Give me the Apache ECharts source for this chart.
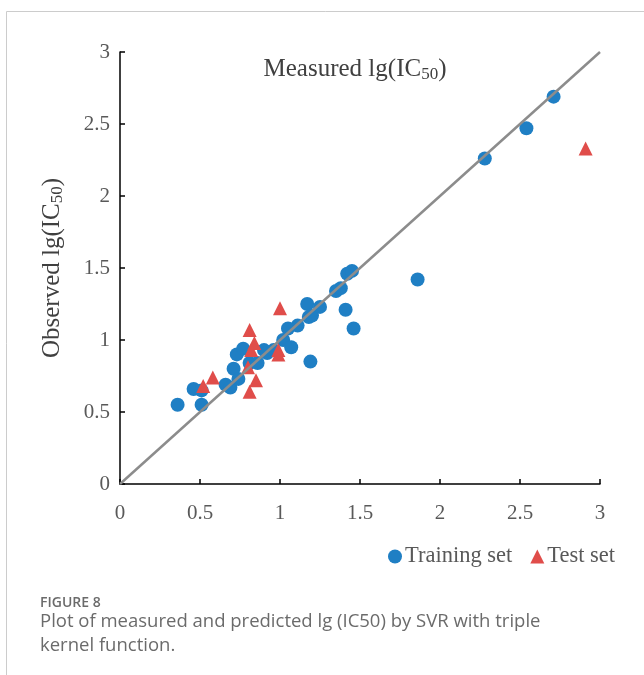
<!DOCTYPE html>
<html>
<head>
<meta charset="utf-8">
<script src="https://cdn.jsdelivr.net/npm/echarts@6/dist/echarts.min.js"></script>
<style>
  html, body { margin: 0; padding: 0; background: #fff; }
  #chart { width: 644px; height: 675px; }
</style>
</head>
<body>
<div id="chart"></div>
<script>
// Measured vs. observed lg(IC50) values: [measured, observed]
const trainingSet = [
  [0.36, 0.55], [0.46, 0.66], [0.51, 0.65], [0.51, 0.55], [0.66, 0.69],
  [0.69, 0.67], [0.71, 0.80], [0.73, 0.90], [0.74, 0.73], [0.77, 0.94],
  [0.81, 0.84], [0.86, 0.84], [0.90, 0.93], [0.92, 0.91], [0.96, 0.93],
  [1.02, 1.00], [1.05, 1.08], [1.07, 0.95], [1.11, 1.10], [1.17, 1.25],
  [1.18, 1.16], [1.20, 1.17], [1.19, 0.85], [1.25, 1.23], [1.35, 1.34],
  [1.38, 1.36], [1.41, 1.21], [1.42, 1.46], [1.45, 1.48], [1.46, 1.08],
  [1.86, 1.42], [2.28, 2.26], [2.54, 2.47], [2.71, 2.69]
];
const testSet = [
  [0.52, 0.68], [0.58, 0.74], [0.80, 0.81], [0.81, 0.64], [0.81, 1.07],
  [0.82, 0.93], [0.84, 0.98], [0.85, 0.72], [0.99, 0.93], [0.99, 0.90],
  [1.00, 1.22], [2.91, 2.33]
];
const identityLine = [[0, 0], [3, 3]];
const tickValues = [0, 0.5, 1, 1.5, 2, 2.5, 3];

const serif = '"Liberation Serif", "Times New Roman", serif';
const chart = echarts.init(document.getElementById('chart'), null, { renderer: 'canvas' });
const subStyle = { fontFamily: serif, fontSize: 17, color: '#404040', verticalAlign: 'bottom', padding: [11, 0, 0, 0] };
const tickLabel = v => String(tickValues.find(t => Math.abs(t - v) < 1e-9) ?? v);

chart.setOption({
  animation: false,
  backgroundColor: '#ffffff',
  title: {
    text: 'Measured lg(IC{sub|50})',
    left: 350,
    top: 50,
    textAlign: 'center',
    textStyle: {
      fontFamily: serif, fontSize: 25, fontWeight: 'normal', color: '#404040',
      rich: { sub: subStyle }
    }
  },
  grid: { left: 120, right: 44, top: 52, bottom: 191 },
  xAxis: {
    type: 'value', min: 0, max: 3, interval: 0.5,
    axisLine: { show: true, lineStyle: { color: '#000', width: 1.5 } },
    axisTick: { show: true, inside: true, length: 5, lineStyle: { color: '#000', width: 1.5 } },
    axisLabel: { margin: 19, fontFamily: serif, fontSize: 21, color: '#595959', formatter: tickLabel },
    splitLine: { show: false }
  },
  yAxis: {
    type: 'value', min: 0, max: 3, interval: 0.5,
    name: 'Observed lg(IC{sub|50})',
    nameLocation: 'middle',
    nameGap: 54,
    nameRotate: 90,
    nameTextStyle: {
      fontFamily: serif, fontSize: 25, color: '#404040',
      rich: { sub: subStyle }
    },
    axisLine: { show: true, lineStyle: { color: '#000', width: 1.5 } },
    axisTick: { show: true, inside: true, length: 5, lineStyle: { color: '#000', width: 1.5 } },
    axisLabel: { margin: 10, fontFamily: serif, fontSize: 21, color: '#595959', formatter: tickLabel },
    splitLine: { show: false }
  },
  legend: {
    left: 383, top: 540,
    itemWidth: 14, itemHeight: 14, itemGap: 18,
    textStyle: { fontFamily: serif, fontSize: 22.5, color: '#595959', padding: [0, 0, 0, -2] },
    data: [
      { name: 'Training set', icon: 'circle' },
      { name: 'Test set', icon: 'triangle' }
    ]
  },
  series: [
    {
      type: 'line', data: identityLine, symbol: 'none', silent: true,
      lineStyle: { color: '#8c8c8c', width: 2.5 }, z: 3
    },
    {
      name: 'Training set', type: 'scatter', data: trainingSet,
      symbol: 'circle', symbolSize: 14,
      itemStyle: { color: '#1f7fc4', opacity: 1 }, z: 2
    },
    {
      name: 'Test set', type: 'scatter', data: testSet,
      symbol: 'triangle', symbolSize: 14,
      itemStyle: { color: '#e04d4a', opacity: 1 }, z: 2
    }
  ],
  graphic: [
    { type: 'line', shape: { x1: 6.5, y1: 11.5, x2: 644, y2: 11.5 }, style: { stroke: '#cccccc', lineWidth: 1 } },
    { type: 'line', shape: { x1: 6.5, y1: 11.5, x2: 6.5, y2: 675 }, style: { stroke: '#cccccc', lineWidth: 1 } },
    { type: 'text', left: 40, top: 596, style: { text: 'FIGURE 8', font: '600 14px "Open Sans", sans-serif', fill: '#6b6b6b' } },
    { type: 'text', left: 40, top: 610, style: { text: 'Plot of measured and predicted lg (IC50) by SVR with triple\nkernel function.', font: '18.5px "Open Sans", sans-serif', lineHeight: 24, fill: '#6b6b6b' } }
  ]
});
</script>
</body>
</html>
